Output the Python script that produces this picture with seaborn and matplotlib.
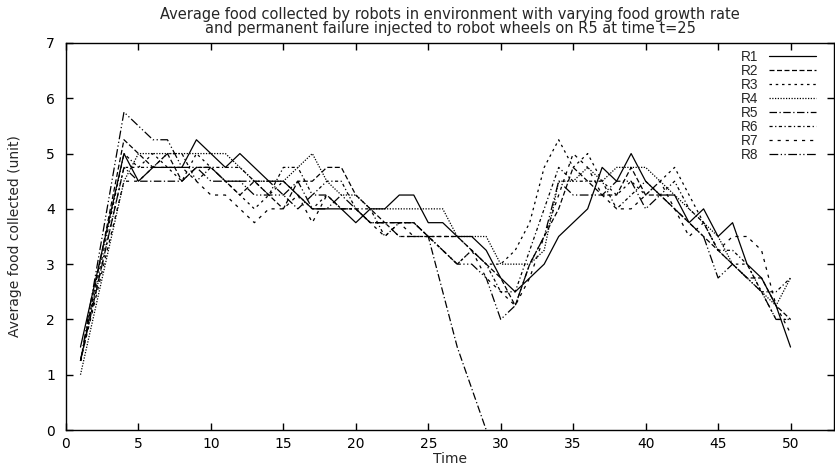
import matplotlib
matplotlib.use("Agg")
import matplotlib.pyplot as plt
import seaborn as sns
import pandas as pd

time = [1, 4, 5, 6, 7, 8, 9, 10, 11, 12, 13, 14, 15, 16, 17, 18, 19, 20, 21, 22, 23,
        24, 25, 26, 27, 28, 29, 30, 31, 32, 33, 34, 35, 36, 37, 38, 39, 40, 41, 42,
        43, 44, 45, 46, 47, 48, 49, 50]

r1 = [1.5,
      5.0, 4.5, 4.75, 4.75, 4.75, 5.25, 5.0, 4.75, 5.0, 4.75,
      4.5, 4.5, 4.25, 4.0, 4.0, 4.0, 3.75, 4.0, 4.0, 4.25,
      4.25, 3.75, 3.75, 3.5, 3.5, 3.25, 2.75, 2.5, 2.75, 3.0,
      3.5, 3.75, 4.0, 4.75, 4.5, 5.0, 4.5, 4.25, 4.25, 3.75,
      4.0, 3.5, 3.75, 3.0, 2.75, 2.25, 1.5]
r2 = [1.25,
      5.25, 5.0, 4.75, 5.0, 4.5, 4.75, 4.75, 4.5, 4.25, 4.5,
      4.25, 4.0, 4.5, 4.5, 4.75, 4.75, 4.25, 4.0, 3.75, 3.75,
      3.75, 3.5, 3.5, 3.5, 3.25, 3.0, 2.75, 2.25, 3.0, 3.5,
      4.0, 4.75, 4.5, 4.25, 4.25, 4.75, 4.25, 4.25, 4.0, 3.75,
      3.5, 3.25, 3.0, 2.75, 2.75, 2.25, 2.0]
r3 = [1.25,
      4.75, 4.75, 5.0, 4.75, 4.5, 5.0, 4.75, 4.5, 4.25, 4.0,
      4.25, 4.5, 4.25, 4.0, 4.25, 4.0, 4.0, 3.75, 3.75, 3.5,
      3.5, 3.5, 3.5, 3.5, 3.25, 3.0, 3.0, 3.25, 3.75, 4.75,
      5.25, 4.75, 5.0, 4.5, 4.25, 4.5, 4.25, 4.5, 4.75, 4.25,
      3.75, 3.25, 3.0, 3.0, 2.5, 2.0, 2.0]
r4 = [1.0,
      4.5, 5.0, 5.0, 5.0, 5.0, 5.0, 5.0, 5.0, 4.75, 4.5,
      4.5, 4.5, 4.75, 5.0, 4.5, 4.25, 4.25, 4.0, 4.0, 4.0,
      4.0, 4.0, 4.0, 3.5, 3.5, 3.5, 3.0, 3.0, 3.0, 3.25,
      4.5, 4.5, 4.75, 4.5, 4.75, 4.75, 4.75, 4.5, 4.25, 4.0,
      3.75, 3.5, 3.0, 2.75, 2.5, 2.25, 2.75]
time_r5 = [1, 4, 5, 6, 7, 8, 9, 10, 11, 12, 13, 14, 15, 16, 17, 18, 19, 20, 21, 22,
           23, 24, 25, 26, 27, 28, 29]
r5 = [1.25,
      4.75, 4.5, 4.5, 4.5, 4.5, 4.75, 4.75, 4.5, 4.5, 4.5,
      4.5, 4.25, 4.0, 4.25, 4.25, 4.0, 4.0, 3.75, 3.75, 3.75,
      3.75, 3.5, 2.5, 1.5, 0.75, 0.0]
r6 = [1.25,
      5.0, 4.75, 4.75, 5.0, 5.0, 4.5, 4.75, 4.75, 4.75, 4.5,
      4.25, 4.75, 4.75, 4.25, 4.5, 4.5, 4.0, 4.0, 3.5, 3.75,
      3.75, 3.5, 3.25, 3.0, 3.25, 3.0, 2.5, 2.5, 3.25, 4.0,
      4.75, 4.5, 4.5, 4.5, 4.0, 4.25, 4.5, 4.25, 4.5, 4.0,
      3.75, 3.25, 3.25, 3.0, 2.5, 2.5, 2.75]
r7 = [1.25,
      4.5, 4.5, 4.75, 4.75, 4.75, 4.5, 4.25, 4.25, 4.0, 3.75,
      4.0, 4.0, 4.25, 3.75, 4.25, 4.0, 4.0, 3.75, 3.5, 3.75,
      3.5, 3.5, 3.25, 3.0, 3.25, 2.75, 2.5, 2.25, 2.75, 3.5,
      4.25, 5.0, 4.75, 4.25, 4.0, 4.0, 4.25, 4.5, 4.0, 3.5,
      3.75, 3.25, 3.5, 3.5, 3.25, 2.25, 1.75]
r8 = [1.25,
      5.75, 5.5, 5.25, 5.25, 4.75, 4.75, 4.5, 4.5, 4.5, 4.25,
      4.25, 4.25, 4.5, 4.0, 4.0, 4.25, 4.0, 3.75, 3.75, 3.5,
      3.5, 3.5, 3.25, 3.0, 3.0, 2.75, 2.0, 2.25, 3.0, 3.5,
      4.5, 4.25, 4.25, 4.25, 4.5, 4.5, 4.0, 4.25, 4.0, 3.75,
      3.5, 2.75, 3.0, 2.75, 2.5, 2.0, 2.0]

labels = ["R1", "R2", "R3", "R4", "R5", "R6", "R7", "R8"]
x_ticks = [0, 5, 10, 15, 20, 25, 30, 35, 40, 45, 50]
y_ticks = [0, 1, 2, 3, 4, 5, 6, 7]

series = [(time, r1), (time, r2), (time, r3), (time, r4),
          (time_r5, r5), (time, r6), (time, r7), (time, r8)]
styles = ["-", (0, (4, 2)), (0, (2, 3)), (0, (1, 1.2)),
          (0, (6, 2, 1, 2)), (0, (2.5, 2, 1, 2)), (0, (2.5, 4)),
          (0, (7, 2, 1, 2, 1, 2))]

sns.set_style("ticks")
plt.rcParams["font.family"] = ["DejaVu Sans"]

fig = plt.figure(figsize=(8.35, 4.75), dpi=100)
ax = fig.add_axes([66 / 835, 1 - 430 / 475, (834 - 66) / 835, (430 - 43) / 475])

for (tx, ty), lab, ls in zip(series, labels, styles):
    df = pd.DataFrame({"Time": tx, "Food": ty})
    sns.lineplot(data=df, x="Time", y="Food", ax=ax, color="black",
                 linewidth=0.9, linestyle=ls, label=lab, legend=False)

ax.set_xlim(0, 53)
ax.set_ylim(0, 7)
ax.set_xticks(x_ticks)
ax.set_yticks(y_ticks)
ax.tick_params(direction="in", top=True, right=True, length=5, width=1,
               labelsize=10, colors="black")
ax.tick_params(axis="x", pad=5)
ax.tick_params(axis="y", pad=8)
for sp in ax.spines.values():
    sp.set_visible(True)
    sp.set_linewidth(1.0)
    sp.set_color("black")

ax.set_xlabel("Time", fontsize=10, labelpad=1)
ax.set_ylabel("Average food collected (unit)", fontsize=10, labelpad=17)
ax.set_title("Average food collected by robots in environment with varying food growth rate\n"
             "and permanent failure injected to robot wheels on R5 at time t=25",
             fontsize=10.5, linespacing=0.95, pad=7)

handles = ax.get_lines()[:8]
ax.legend(handles, labels, loc="upper right", frameon=False, markerfirst=False,
          prop={"family": ["Liberation Sans", "DejaVu Sans"], "size": 9.8},
          handlelength=3.4, labelspacing=0.0, handletextpad=0.8,
          borderaxespad=0.1, bbox_to_anchor=(0.985, 1.0))

fig.savefig("out.png", dpi=100)
